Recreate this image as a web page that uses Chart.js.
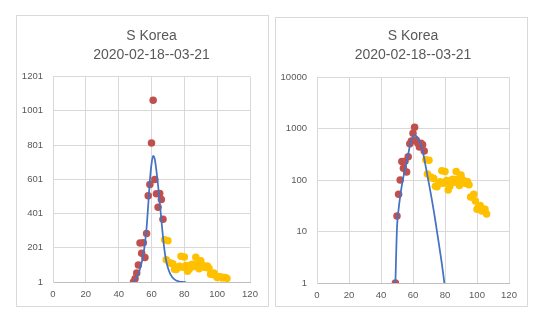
<!DOCTYPE html>
<html>
<head>
<meta charset="utf-8">
<script src="https://cdn.jsdelivr.net/npm/chart.js@4.4.1/dist/chart.umd.min.js"></script>
<style>
  body { margin: 0; background: #fff; }
  .chart-box { position: absolute; border: 1px solid #d9d9d9; background: #fff; }
  #box-linear { left: 16px; top: 15px; width: 251px; height: 290px; }
  #box-log { left: 275px; top: 17px; width: 251px; height: 288px; }
</style>
</head>
<body>
<div class="chart-box" id="box-linear"><canvas id="chart-linear" width="251" height="290"></canvas></div>
<div class="chart-box" id="box-log"><canvas id="chart-log" width="251" height="288"></canvas></div>
<script>
const titleLines = ['S Korea', '2020-02-18--03-21'];

// daily new cases used for the fit
const fitDays = [49, 50, 51, 52, 53, 54, 55, 56, 57, 58, 59, 60, 61, 62, 63, 64, 65, 66, 67];
const fitCases = [1, 20, 53, 100, 229, 169, 231, 144, 284, 505, 571, 813, 1062, 600, 516, 438, 518, 483, 367];

// daily new cases after the fit window
const laterDays = [68, 69, 70, 71, 72, 73, 74, 75, 76, 77, 78, 79, 80, 81, 82, 83, 84, 85, 86, 87,
  88, 89, 90, 91, 92, 93, 94, 95, 96, 97, 98, 99, 100, 101, 102, 103, 104, 105, 106];
const laterCases = [248, 131, 242, 114, 110, 107, 76, 74, 84, 93, 152, 87, 147, 98, 64, 76, 100, 104, 91, 146,
  105, 78, 125, 101, 89, 86, 94, 81, 47, 47, 53, 39, 27, 30, 32, 25, 27, 27, 22];

// fitted curve, one value per day
const curveDays = [49, 50, 51, 52, 53, 54, 55, 56, 57, 58, 59, 60, 61, 62, 63, 64, 65,
  66, 67, 68, 69, 70, 71, 72, 73, 74, 75, 76, 77, 78, 79, 80, 81];
const curveCases = [1, 12, 27, 48, 78, 115, 160, 225, 318, 450, 592, 690, 738, 718, 650, 565, 465,
  365, 265, 180, 122, 84, 57, 38, 25, 16, 10, 6.3, 3.9, 2.4, 1.4, 0.8, 0.45];

const xTicks = [0, 20, 40, 60, 80, 100, 120];
const linearTicks = [1, 201, 401, 601, 801, 1001, 1201];
const logTicks = [1, 10, 100, 1000, 10000];

const FONT = '"Liberation Sans", Arial, sans-serif';
const GREY = '#595959';

function points(xs, ys) {
    return xs.map((x, i) => ({ x: x, y: ys[i] }));
}

function makeChart(id, yOpts, yWidth, xHeight, titlePad) {
    const ctx = document.getElementById(id).getContext('2d');
    return new Chart(ctx, {
        type: 'scatter',
        data: {
            datasets: [{
                label: 'fit',
                data: points(curveDays, curveCases),
                showLine: true,
                borderColor: '#4472c4',
                borderWidth: 1.75,
                pointRadius: 0,
                cubicInterpolationMode: 'monotone'
            }, {
                label: 'cases',
                data: points(fitDays, fitCases),
                backgroundColor: '#c0504d',
                pointRadius: 3.75,
                borderWidth: 0
            }, {
                label: 'later',
                data: points(laterDays, laterCases),
                backgroundColor: '#ffc000',
                pointRadius: 3.75,
                borderWidth: 0
            }]
        },
        options: {
            responsive: false,
            animation: false,
            layout: { padding: { left: 0, right: 18, top: 0, bottom: 0 } },
            plugins: {
                legend: { display: false },
                tooltip: { enabled: false },
                title: {
                    display: true,
                    text: titleLines,
                    fullSize: false,
                    color: GREY,
                    font: { family: FONT, size: 14, weight: 'normal', lineHeight: 1.36 },
                    padding: titlePad
                }
            },
            scales: {
                x: {
                    type: 'linear',
                    min: 0,
                    max: 120,
                    afterBuildTicks: s => { s.ticks = xTicks.map(v => ({ value: v })); },
                    afterFit: s => { s.height = xHeight; },
                    grid: { color: '#d9d9d9', drawTicks: false },
                    border: { color: '#bfbfbf' },
                    ticks: { color: GREY, font: { family: FONT, size: 9.5 }, padding: 7, maxRotation: 0 }
                },
                y: Object.assign({
                    afterFit: s => { s.width = yWidth; },
                    grid: { color: '#d9d9d9', drawTicks: false },
                    border: { color: '#d9d9d9' },
                    ticks: { color: GREY, font: { family: FONT, size: 9.5 }, padding: 10, callback: v => String(v) }
                }, yOpts)
            }
        }
    });
}

makeChart('chart-linear', {
    type: 'linear',
    min: 1,
    max: 1201,
    afterBuildTicks: s => { s.ticks = linearTicks.map(v => ({ value: v })); }
}, 36, 24, { top: 10.5, bottom: 12 });

makeChart('chart-log', {
    type: 'logarithmic',
    min: 1,
    max: 10000,
    afterBuildTicks: s => { s.ticks = logTicks.map(v => ({ value: v })); }
}, 41, 23, { top: 9, bottom: 12 });
</script>
</body>
</html>
